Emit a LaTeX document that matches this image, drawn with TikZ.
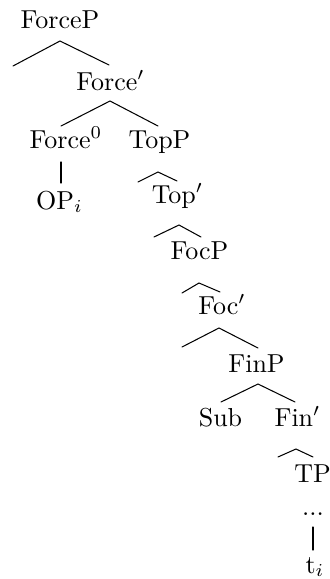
\documentclass[tikz,border=0pt]{standalone}
\begin{document}
\begin{tikzpicture}[x=0.385pt,y=-0.385pt,
  lbl/.style={anchor=base,inner sep=0pt,font=\fontsize{10}{12}\selectfont},
  branch/.style={line width=0.4pt,line cap=round}]
\useasboundingbox (0,0) rectangle (330,579);
% labels
\node[lbl] (forceP) at (60,28) {ForceP};
\node[lbl] (forceB) at (110.5,90) {Force$'$};
\node[lbl] (force0) at (66,148) {Force$^0$};
\node[lbl] (topP) at (159.5,148) {TopP};
\node[lbl] (op) at (59.5,209) {OP$_i$};
\node[lbl] (topB) at (177.5,203) {Top$'$};
\node[lbl] (focP) at (199.5,259) {FocP};
\node[lbl] (focB) at (222,314) {Foc$'$};
\node[lbl] (finP) at (256.5,372) {FinP};
\node[lbl] (sub) at (220.5,426) {Sub};
\node[lbl] (finB) at (297.5,426) {Fin$'$};
\node[lbl] (tp) at (312.5,482) {TP};
\node[lbl] (dots) at (313,515) {...};
\node[lbl] (trace) at (315,573) {t$_i$};
% branch points
\coordinate (a1) at (60,41);   \coordinate (l1) at (13,66);   \coordinate (r1) at (109,65);
\coordinate (a2) at (110,101); \coordinate (l2) at (61,126);  \coordinate (r2) at (158,126);
\coordinate (a3) at (61,162);  \coordinate (b3) at (61,183);
\coordinate (a4) at (158,172); \coordinate (l4) at (138,182); \coordinate (r4) at (177,181);
\coordinate (a5) at (179,225); \coordinate (l5) at (154,237); \coordinate (r5) at (201,237);
\coordinate (a6) at (199,283); \coordinate (l6) at (182,293); \coordinate (r6) at (220,292);
\coordinate (a7) at (219,328); \coordinate (l7) at (182,347); \coordinate (r7) at (258,348);
\coordinate (a8) at (258,384); \coordinate (l8) at (221,402); \coordinate (r8) at (295,402);
\coordinate (a9) at (296,449); \coordinate (l9) at (278,457); \coordinate (r9) at (313,457);
\coordinate (a10) at (313,527); \coordinate (b10) at (313,550);
% branches
\draw[branch] (l1) -- (a1) -- (r1);
\draw[branch] (l2) -- (a2) -- (r2);
\draw[branch] (a3) -- (b3);
\draw[branch] (l4) -- (a4) -- (r4);
\draw[branch] (l5) -- (a5) -- (r5);
\draw[branch] (l6) -- (a6) -- (r6);
\draw[branch] (l7) -- (a7) -- (r7);
\draw[branch] (l8) -- (a8) -- (r8);
\draw[branch] (l9) -- (a9) -- (r9);
\draw[branch] (a10) -- (b10);
\end{tikzpicture}
\end{document}
